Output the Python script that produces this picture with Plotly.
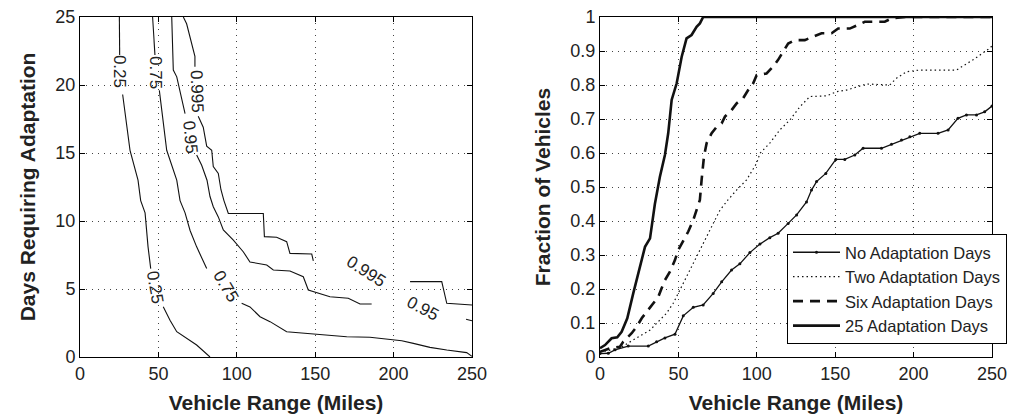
import plotly.graph_objects as go

# ---------------- Left panel: contour lines (Vehicle Range vs Days) ----------------
c025_x = [25.1, 25.3, None, 27.2, 31.9, 37.0, 38.7, 41.5, 43.4, 45.1, None, 53.1, 57.4, 61.7, 74.4, 82.9]
c025_y = [25, 22.2, None, 19.3, 15.2, 13.0, 11.5, 10.6, 8.1, 6.5, None, 3.7, 2.7, 1.86, 0.88, 0]

c075_x = [46.3, 47.8, None, 50.6, 55.3, 61.7, 63.8, 67.0, 70.2, 74.4, 80.8, None, 103.1, 108.4, 114.8,
          121.2, 131.8, 148.8, 170.1, 184.9, 205.2, 212.6, 223.2, 233.9, 246.6, 250]
c075_y = [25, 22.2, None, 19.6, 15.2, 13.0, 11.5, 10.6, 9.3, 8.1, 6.5, None, 3.95, 3.68, 2.96,
          2.6, 1.86, 1.69, 1.49, 1.45, 1.2, 1.0, 0.71, 0.51, 0.32, 0.05]

c095_x = [58.5, 59.5, 61.7, 67.0, None, 74.4, 77.6, 81.0, 82.9, 85.0, 88.2, 91.4, 97.8, 104.1, 108.4,
          119.1, 123.3, 133.9, 142.4, 145.6, 159.4, 171.1, 178.6, 186.0, None, 246.2, 250]
c095_y = [25, 21.1, 20.6, 17.9, None, 14.85, 14.1, 13.0, 11.8, 11.05, 10.3, 9.34, 8.6, 7.74, 6.99,
          6.76, 6.4, 6.32, 5.9, 4.93, 4.43, 4.32, 3.9, 3.9, None, 2.77, 2.67]

c0995_x = [65.9, 68.0, 73.3, 73.3, None, 75.4, 78.6, 80.8, 84.0, 85.0, 88.2, 89.9, 91.8, 94.6, 116.9,
           117.6, 125.4, 131.8, 133.9, 147.8, 148.8, None, 210.5, 230.7, 233.9, 250]
c0995_y = [25, 24.5, 22.1, 21.35, None, 17.7, 16.9, 15.5, 15.2, 14.0, 13.5, 12.3, 11.5, 10.55, 10.55,
           8.85, 8.8, 8.48, 7.62, 7.57, 7.06, None, 5.54, 5.54, 3.95, 3.82]

contour_label_text = ["0.25", "0.75", "0.95", "0.995", "0.25", "0.75", "0.995", "0.95"]
contour_label_x = [25.2, 48.5, 70.2, 74.4, 47.8, 93.0, 182.4, 218.4]
contour_label_y = [21.0, 20.95, 16.2, 19.5, 5.1, 5.17, 6.32, 3.53]
contour_label_angle = [90, 90, 85, 88, 80, 60, 33, 28]

# ---------------- Right panel: fraction of vehicles ----------------
no_x = [0, 5.3, 9.6, 18.0, 30.8, 36.1, 41.4, 47.8, 53.1, 59.5, 65.8, 72.2, 77.6, 83.9, 89.2, 95.6,
        102.0, 108.3, 113.6, 120.0, 125.4, 131.7, 134.9, 138.1, 144.0, 150.4, 156.1, 162.5, 167.8,
        179.5, 185.9, 192.3, 197.6, 203.9, 215.6, 222.0, 228.3, 233.7, 240.1, 245.3, 250]
no_y = [0.01, 0.011, 0.021, 0.032, 0.032, 0.045, 0.056, 0.067, 0.121, 0.146, 0.153, 0.187, 0.221,
        0.256, 0.274, 0.307, 0.332, 0.351, 0.364, 0.393, 0.418, 0.456, 0.491, 0.516, 0.54, 0.581,
        0.581, 0.594, 0.614, 0.614, 0.626, 0.638, 0.648, 0.658, 0.658, 0.668, 0.702, 0.712, 0.712,
        0.721, 0.738]

two_x = [0, 6.4, 13.8, 19.1, 25.5, 31.9, 36.1, 42.5, 46.7, 51.0, 55.3, 59.5, 63.7, 68.0, 72.2, 76.5,
         81.6, 87.1, 93.5, 99.9, 102.0, 108.3, 114.7, 121.1, 127.5, 133.8, 144.5, 150.8, 157.2,
         163.6, 170.0, 184.8, 189.1, 195.5, 203.9, 227.3, 237.9, 248.5, 250]
two_y = [0.015, 0.02, 0.03, 0.044, 0.06, 0.079, 0.099, 0.129, 0.158, 0.197, 0.236, 0.276, 0.315,
         0.354, 0.393, 0.432, 0.462, 0.491, 0.521, 0.57, 0.599, 0.629, 0.668, 0.697, 0.736, 0.766,
         0.768, 0.78, 0.785, 0.795, 0.803, 0.8, 0.82, 0.839, 0.844, 0.844, 0.874, 0.908, 0.915]

six_x = [0, 6.4, 12.7, 14.8, 20.2, 23.4, 26.6, 29.8, 34.0, 37.2, 39.3, 41.4, 44.6, 47.8, 49.9, 52.1,
         54.2, 56.3, 59.5, 61.6, 63.7, 64.8, 66.3, 68.0, 71.2, 74.4, 77.6, 79.7, 83.9, 87.1, 91.3,
         94.5, 97.7, 99.9, 106.2, 110.4, 113.6, 116.8, 120.0, 124.3, 130.6, 135.9, 141.3, 147.7,
         151.9, 159.3, 163.6, 168.9, 175.3, 181.6, 185.9, 194.4, 250]
six_y = [0.015, 0.026, 0.03, 0.045, 0.07, 0.089, 0.114, 0.133, 0.158, 0.177, 0.202, 0.226, 0.251,
         0.285, 0.315, 0.334, 0.354, 0.369, 0.403, 0.432, 0.462, 0.521, 0.589, 0.629, 0.658, 0.677,
         0.687, 0.707, 0.726, 0.746, 0.761, 0.785, 0.805, 0.829, 0.834, 0.854, 0.874, 0.898, 0.922,
         0.932, 0.932, 0.942, 0.952, 0.952, 0.966, 0.966, 0.976, 0.986, 0.986, 0.986, 0.996, 1.0, 1.0]

d25_x = [0, 3.2, 7.4, 11.0, 13.8, 17.4, 21.2, 25.5, 28.7, 31.9, 35.0, 38.2, 41.4, 43.5, 45.7, 48.9,
         52.1, 55.2, 58.4, 61.6, 63.7, 65.8, 250]
d25_y = [0.026, 0.035, 0.055, 0.058, 0.074, 0.114, 0.187, 0.27, 0.324, 0.349, 0.45, 0.53, 0.594,
         0.658, 0.756, 0.805, 0.883, 0.937, 0.947, 0.971, 0.981, 1.0, 1.0]

series_names = ["No Adaptation Days", "Two Adaptation Days", "Six Adaptation Days", "25 Adaptation Days"]

W, H = 1012, 420
TXT = "#222222"
FONT = "Liberation Sans, Arial, sans-serif"

fig = go.Figure()

for cx, cy in [(c025_x, c025_y), (c075_x, c075_y), (c095_x, c095_y), (c0995_x, c0995_y)]:
    fig.add_trace(go.Scatter(x=cx, y=cy, mode="lines", line=dict(color="#111111", width=1.1),
                             connectgaps=False, showlegend=False, hoverinfo="skip",
                             xaxis="x", yaxis="y"))

for t, lx, ly, ang in zip(contour_label_text, contour_label_x, contour_label_y, contour_label_angle):
    fig.add_annotation(x=lx, y=ly, xref="x", yref="y", text=t, showarrow=False, textangle=ang,
                       font=dict(family=FONT, size=17, color=TXT))

fig.add_trace(go.Scatter(x=no_x, y=no_y, mode="lines+markers", name=series_names[0],
                         line=dict(color="#111111", width=1.3),
                         marker=dict(symbol="circle", size=3, color="#111111"),
                         xaxis="x2", yaxis="y2"))
fig.add_trace(go.Scatter(x=two_x, y=two_y, mode="lines", name=series_names[1],
                         line=dict(color="#111111", width=1.2, dash="1.5px,3px"),
                         xaxis="x2", yaxis="y2"))
fig.add_trace(go.Scatter(x=six_x, y=six_y, mode="lines", name=series_names[2],
                         line=dict(color="#111111", width=2.6, dash="10px,7px"),
                         xaxis="x2", yaxis="y2"))
fig.add_trace(go.Scatter(x=d25_x, y=d25_y, mode="lines", name=series_names[3],
                         line=dict(color="#111111", width=2.6),
                         xaxis="x2", yaxis="y2"))

axis_common = dict(showline=True, linecolor="black", linewidth=1, mirror="allticks",
                   ticks="inside", ticklen=5, tickcolor="black",
                   showgrid=True, gridcolor="#444444", gridwidth=1, griddash="1px,5px",
                   zeroline=False, tickfont=dict(family=FONT, size=18, color=TXT))
title_font = dict(family=FONT, size=21, color=TXT, weight="bold")

fig.update_layout(
    width=W, height=H,
    margin=dict(l=0, r=0, t=17, b=63, autoexpand=False),
    paper_bgcolor="white", plot_bgcolor="white",
    xaxis=dict(domain=[80 / W, 472 / W], range=[0, 250], tickvals=[0, 50, 100, 150, 200, 250],
               anchor="y", title=dict(text="Vehicle Range (Miles)", font=title_font, standoff=12),
               **axis_common),
    yaxis=dict(domain=[0, 1], range=[0, 25], tickvals=[0, 5, 10, 15, 20, 25], anchor="x",
               title=dict(text="Days Requiring Adaptation", font=title_font, standoff=14),
               **axis_common),
    xaxis2=dict(domain=[600 / W, 992 / W], range=[0, 250], tickvals=[0, 50, 100, 150, 200, 250],
                anchor="y2", title=dict(text="Vehicle Range (Miles)", font=title_font, standoff=12),
                **axis_common),
    yaxis2=dict(domain=[0, 1], range=[0, 1], tickvals=[0, 0.1, 0.2, 0.3, 0.4, 0.5, 0.6, 0.7, 0.8, 0.9, 1],
                ticktext=["0", "0.1", "0.2", "0.3", "0.4", "0.5", "0.6", "0.7", "0.8", "0.9", "1"],
                anchor="x2", title=dict(text="Fraction of Vehicles", font=title_font, standoff=14),
                **axis_common),
    legend=dict(x=787 / W, y=(357 - 289) / 340, xanchor="left", yanchor="middle",
                bgcolor="white", bordercolor="black", borderwidth=1, itemwidth=47,
                font=dict(family=FONT, size=16.5, color=TXT), tracegroupgap=0),
    showlegend=True,
)

fig.write_html("out.html", post_script="document.body.style.margin='0';",
               config={"displayModeBar": False})
